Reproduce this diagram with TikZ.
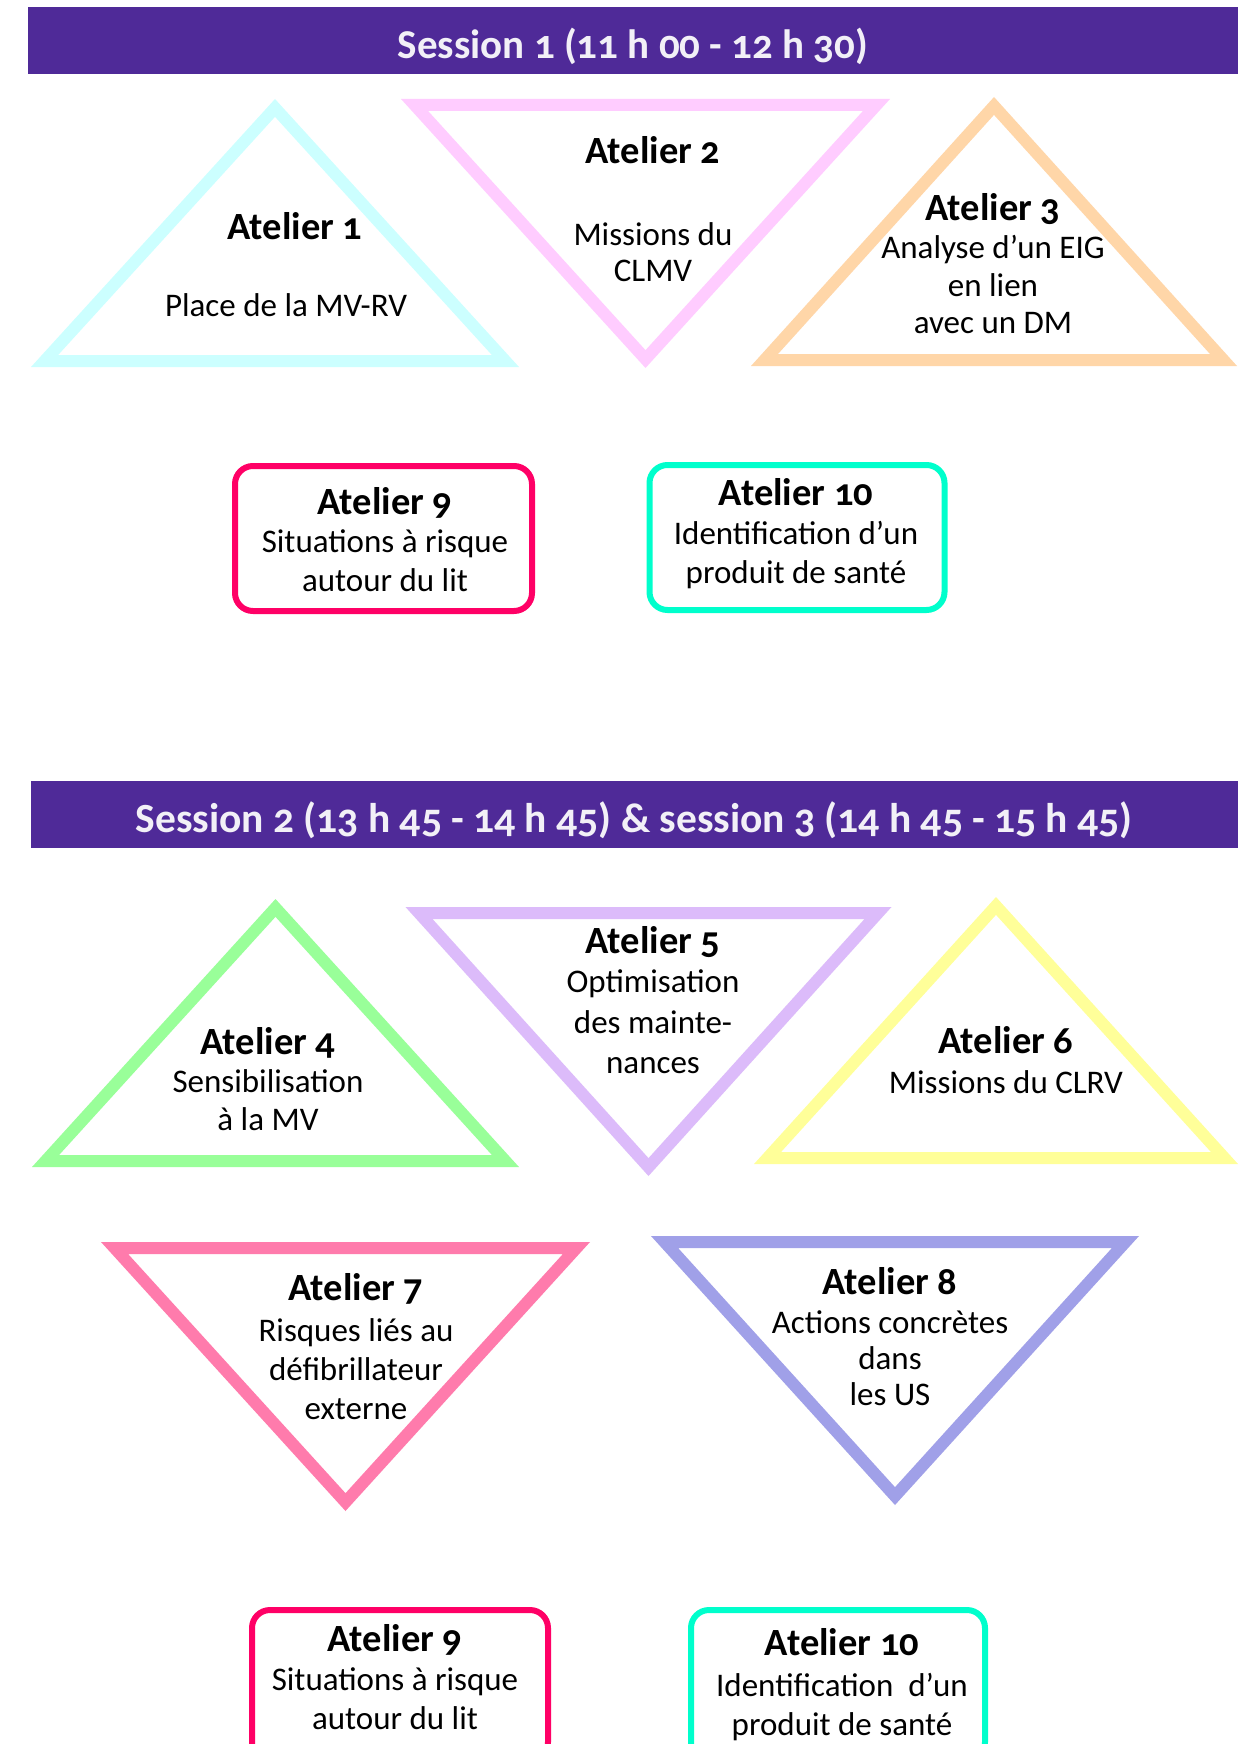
\documentclass[tikz,border=0pt]{standalone}
\usepackage{fontspec}
\setmainfont{Carlito}[Numbers=OldStyle]
\definecolor{hdr}{HTML}{4F2A98}
\definecolor{hdrtxt}{HTML}{F2F0F7}
\definecolor{cyanT}{HTML}{CCFFFF}
\definecolor{pinkT}{HTML}{FFCCFF}
\definecolor{peachT}{HTML}{FFD6A8}
\definecolor{redB}{HTML}{FF0066}
\definecolor{tealB}{HTML}{00FFCC}
\definecolor{greenT}{HTML}{99FF99}
\definecolor{lavT}{HTML}{DCBBFA}
\definecolor{yelT}{HTML}{FFFF99}
\definecolor{rosT}{HTML}{FF7BAC}
\definecolor{perT}{HTML}{A0A0E8}
\newcommand{\tw}{12}
% up triangle: cx, apex y (outer), base y (outer), half width (outer), colour
\newcommand{\uptri}[5]{%
  \pgfmathsetmacro{\tH}{#3-#2}%
  \pgfmathsetmacro{\tL}{100*sqrt((#4/100)^2+(\tH/100)^2)}%
  \pgfmathsetmacro{\tr}{#4/(#4+\tL)*\tH}%
  \pgfmathsetmacro{\tk}{(\tr-\tw/2)/\tr}%
  \pgfmathsetmacro{\iy}{#3-\tr}%
  \pgfmathsetmacro{\ay}{\iy+\tk*(#2-\iy)}%
  \pgfmathsetmacro{\by}{\iy+\tk*(#3-\iy)}%
  \pgfmathsetmacro{\bl}{#1-\tk*#4}%
  \pgfmathsetmacro{\br}{#1+\tk*#4}%
  \draw[tri,#5] (#1,\ay) -- (\br,\by) -- (\bl,\by) -- cycle;}
% down triangle: cx, top y (outer), apex y (outer), half width (outer), colour
\newcommand{\dntri}[5]{%
  \pgfmathsetmacro{\tH}{#3-#2}%
  \pgfmathsetmacro{\tL}{100*sqrt((#4/100)^2+(\tH/100)^2)}%
  \pgfmathsetmacro{\tr}{#4/(#4+\tL)*\tH}%
  \pgfmathsetmacro{\tk}{(\tr-\tw/2)/\tr}%
  \pgfmathsetmacro{\iy}{#2+\tr}%
  \pgfmathsetmacro{\ay}{\iy+\tk*(#3-\iy)}%
  \pgfmathsetmacro{\by}{\iy+\tk*(#2-\iy)}%
  \pgfmathsetmacro{\bl}{#1-\tk*#4}%
  \pgfmathsetmacro{\br}{#1+\tk*#4}%
  \draw[tri,#5] (#1,\ay) -- (\br,\by) -- (\bl,\by) -- cycle;}
\tikzset{
  tri/.style={line width=\tw pt, line join=miter, miter limit=20},
  boxst/.style={line width=6pt, rounded corners=18pt},
  hdrbar/.style={fill=hdr, draw=none},
  hdrtext/.style={text=hdrtxt, font=\bfseries\fontsize{41}{48}\selectfont, inner sep=0pt, anchor=base},
  ttl/.style={font=\bfseries\fontsize{38.5}{42}\selectfont, inner sep=0pt, anchor=base},
  body/.style={font=\fontsize{33}{39}\selectfont, align=center, inner sep=0pt, anchor=base},
}
\begin{document}
\begin{tikzpicture}[x=1pt,y=-1pt]
\useasboundingbox (0,0) rectangle (1245,1744);
\fill[white] (0,0) rectangle (1245,1744);
\clip (0,0) rectangle (1245,1744);

% ---------- Session 1 ----------
\fill[hdrbar] (28,7) rectangle (1238,74);
\node[hdrtext] (h1) at (633,59) {Session 1 (11 h 00 - 12 h 30)};

\uptri{275}{99}{367}{244}{cyanT}
\node[ttl] (t1) at (295,240) {Atelier 1};
\node[body] (b1) at (286,316) {Place de la MV-RV};

\dntri{645.5}{99}{368}{244.5}{pinkT}
\node[ttl] (t2) at (653,164) {Atelier 2};
\node[body, font=\fontsize{33}{36}\selectfont] (b2) at (653,281.5) {Missions du\\CLMV};

\uptri{994}{97}{366}{243}{peachT}
\node[ttl] (t3) at (993,221) {Atelier 3};
\node[body, font=\fontsize{33}{37.5}\selectfont] (b3) at (993,333.5) {Analyse d’un EIG\\en lien\\avec un DM};

\draw[boxst, redB] (235,466) rectangle (532,611);
\node[ttl] (t9a) at (385,514) {Atelier 9};
\node[body] (b9a) at (385,591.5) {Situations à risque\\autour du lit};

\draw[boxst, tealB] (649.5,465) rectangle (944.5,610);
\node[ttl] (t10a) at (796,505) {Atelier 10};
\node[body] (b10a) at (796,583.5) {Identification d’un\\produit de santé};

% ---------- Sessions 2 & 3 ----------
\fill[hdrbar] (31,781) rectangle (1238,848);
\node[hdrtext, font=\bfseries\fontsize{41.5}{48}\selectfont] (h2) at (634,832) {Session 2 (13 h 45 - 14 h 45) \& session 3 (14 h 45 - 15 h 45)};

\uptri{275.5}{899}{1167}{243.5}{greenT}
\node[ttl] (t4) at (268,1054.5) {Atelier 4};
\node[body, font=\fontsize{33}{38}\selectfont] (b4) at (268,1130) {Sensibilisation\\à la MV};

\dntri{648.5}{907}{1176}{243}{lavT}
\node[ttl] (t5) at (653,953.5) {Atelier 5};
\node[body, font=\fontsize{33}{40.5}\selectfont] (b5) at (653,1073.5) {Optimisation\\des mainte-\\nances};

\uptri{996}{897}{1164}{242}{yelT}
\node[ttl] (t6) at (1006,1053) {Atelier 6};
\node[body] (b6) at (1006,1093.5) {Missions du CLRV};

\dntri{345.5}{1242}{1511}{244.5}{rosT}
\node[ttl] (t7) at (356,1300.5) {Atelier 7};
\node[body] (b7) at (356,1419.5) {Risques liés au\\défibrillateur\\externe};

\dntri{895}{1236}{1505}{244}{perT}
\node[ttl] (t8) at (890,1294.5) {Atelier 8};
\node[body, font=\fontsize{33}{36}\selectfont] (b8) at (890,1405.5) {Actions concrètes\\dans\\les US};

\draw[boxst, redB] (252,1610) rectangle (548,1760);
\node[ttl] (t9b) at (395,1651.5) {Atelier 9};
\node[body] (b9b) at (395,1729.5) {Situations à risque\\autour du lit};

\draw[boxst, tealB] (691,1610) rectangle (985,1760);
\node[ttl] (t10b) at (842,1655.5) {Atelier 10};
\node[body] (b10b) at (842,1735.5) {Identification\ \ d’un\\produit de santé};
\end{tikzpicture}
\end{document}
